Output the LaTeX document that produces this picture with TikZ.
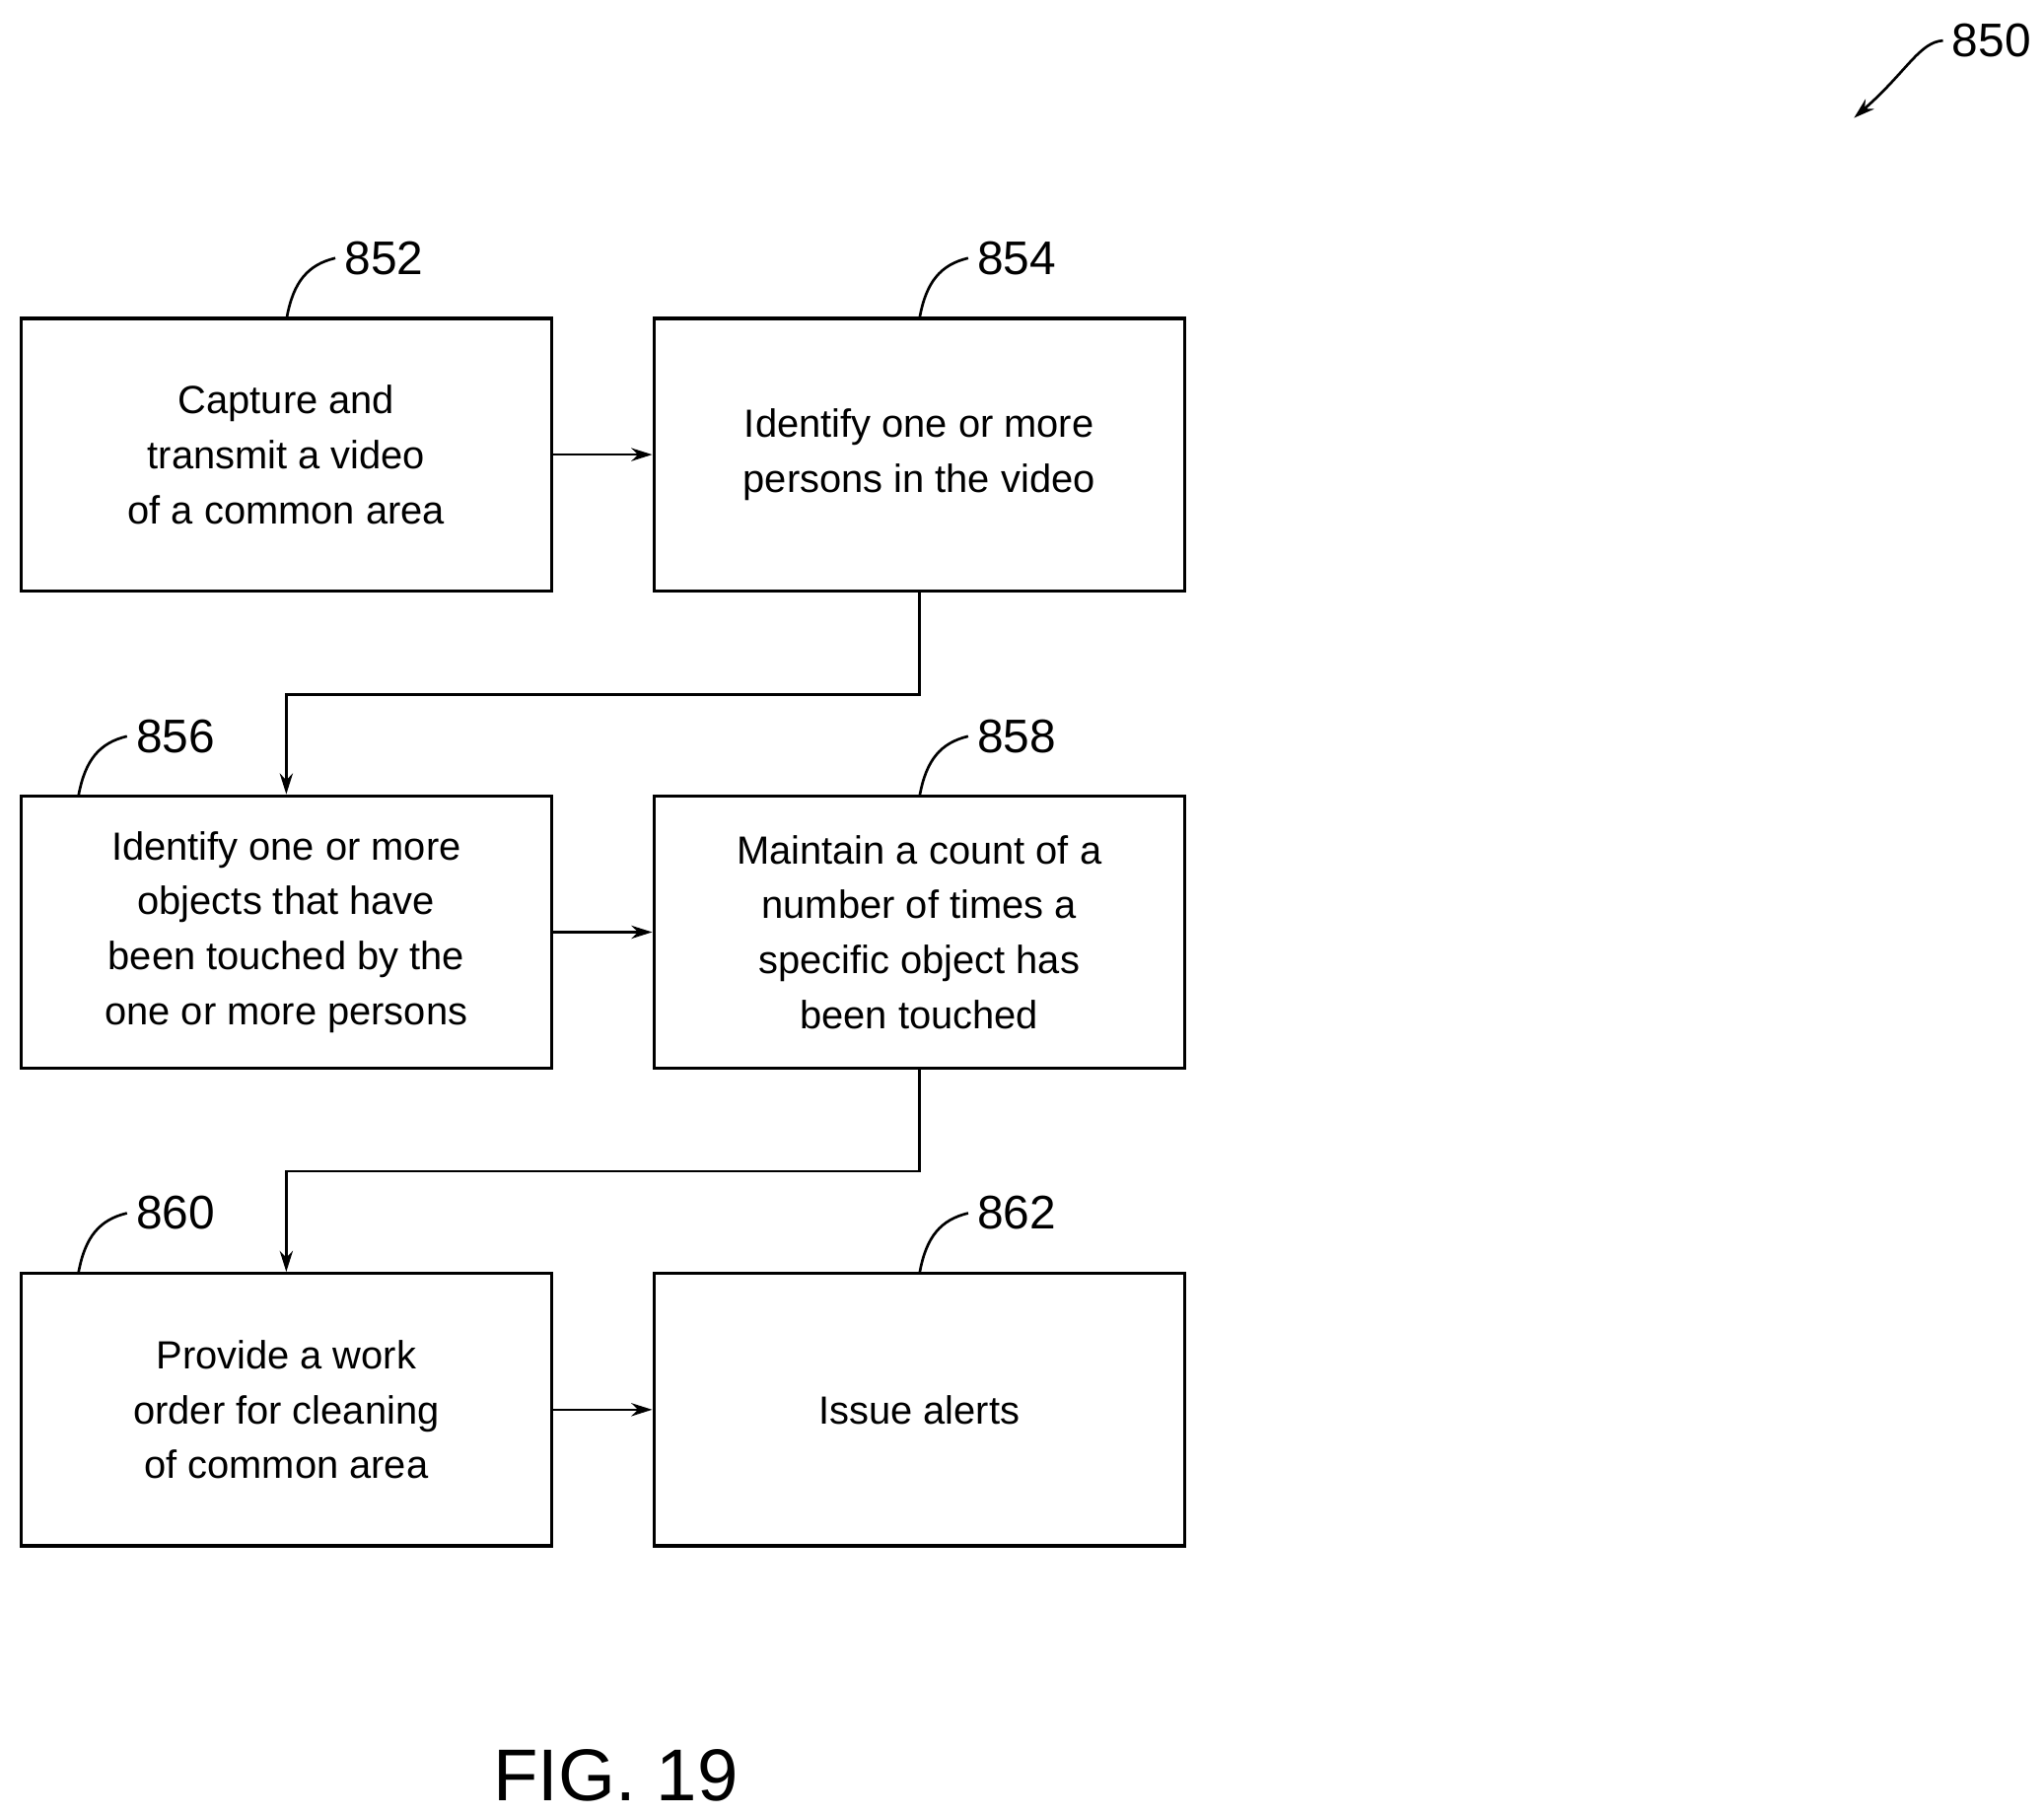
\documentclass[tikz,border=0pt]{standalone}
\usepackage{fontspec}
\setmainfont{Liberation Sans}
\usetikzlibrary{arrows.meta}
\begin{document}
\begin{tikzpicture}[x=0.5pt,y=-0.5pt,
 box/.style={draw,line width=1.2pt,minimum width=202.5pt,minimum height=104pt,align=center,font=\fontsize{15}{21}\selectfont,inner sep=0pt},
 lbl/.style={font=\fontsize{18}{20}\selectfont},
 arr/.style={-{Stealth[length=8pt,width=5pt]},line width=1pt},
 lead/.style={line width=1pt}]
\useasboundingbox (0,0) rectangle (1560,1386);
\node[box] (b1) at (218.5,347) {Capture and\\transmit a video\\of a common area};
\node[box] (b2) at (701.5,347) {Identify one or more\\persons in the video};
\node[box] (b3) at (218.5,711.5) {Identify one or more\\objects that have\\been touched by the\\one or more persons};
\node[box] (b4) at (701.5,711.5) {Maintain a count of a\\number of times a\\specific object has\\been touched};
\node[box] (b5) at (218.5,1076) {Provide a work\\order for cleaning\\of common area};
\node[box] (b6) at (701.5,1076) {Issue alerts};
\draw[arr] (b1) -- (b2);
\draw[arr] (b3) -- (b4);
\draw[arr] (b5) -- (b6);
\draw[arr] (b2.south) -- (701.5,530) -| (b3.north);
\draw[arr] (b4.south) -- (701.5,894) -| (b5.north);
\foreach \n/\x/\y/\t in {l852/293/197/852,l854/776/197/854,l856/134/562/856,l858/776/562/858,l860/134/926/860,l862/776/926/862}
  \node[lbl] (\n) at (\x,\y) {\t};
\draw[lead] (219,242) .. controls (224,215) and (235,202) .. (l852.west);
\draw[lead] (702,242) .. controls (707,215) and (718,202) .. (l854.west);
\draw[lead] (60,607) .. controls (65,580) and (76,567) .. (l856.west);
\draw[lead] (702,607) .. controls (707,580) and (718,567) .. (l858.west);
\draw[lead] (60,971) .. controls (65,944) and (76,931) .. (l860.west);
\draw[lead] (702,971) .. controls (707,944) and (718,931) .. (l862.west);
\node[lbl] (l850) at (1520,31) {850};
\draw[arr] (l850.west) .. controls (1465,32) and (1455,55) .. (1415,90);
\node[font=\fontsize{28}{30}\selectfont] (fig) at (470,1355) {FIG. 19};
\end{tikzpicture}
\end{document}
